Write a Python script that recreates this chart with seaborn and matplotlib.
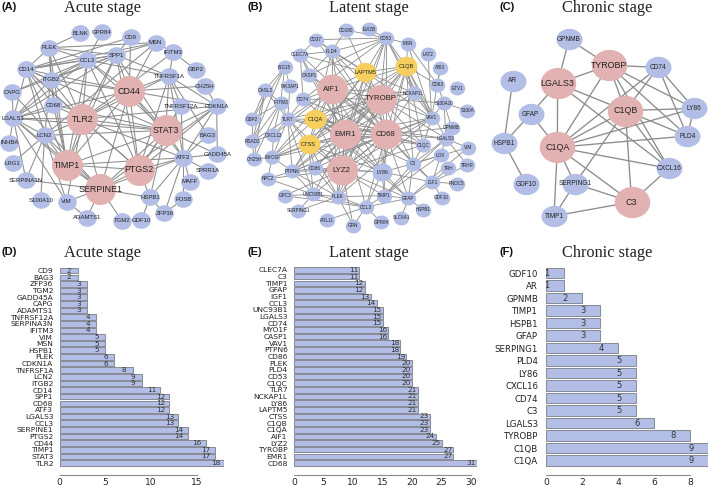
import numpy as np
import pandas as pd
import matplotlib
matplotlib.use("Agg")
import matplotlib.pyplot as plt
from matplotlib.collections import LineCollection
from matplotlib.path import Path
import seaborn as sns

sns.set_theme(style="white")
plt.rcParams['font.family'] = ['Liberation Sans', 'DejaVu Sans']

BLUE = "#B2BEE6"
PINK = "#E2B2B2"
GOLD = "#F6CF5E"
W, H = 709, 486

# ---- degree bars ----
acute_genes = ["CD9", "BAG3", "ZFP36", "TGM2", "GADD45A", "CAPG", "ADAMTS1", "TNFRSF12A", "SERPINA3N", "IFITM3",
               "VIM", "MSN", "HSPB1", "PLEK", "CDKN1A", "TNFRSF1A", "LCN2", "ITGB2", "CD14", "SPP1",
               "CD68", "ATF3", "LGALS3", "CCL3", "SERPINE1", "PTGS2", "CD44", "TIMP1", "STAT3", "TLR2"]
acute_deg = [2, 2, 3, 3, 3, 3, 3, 4, 4, 4, 5, 5, 5, 6, 6, 8, 9, 9, 11, 12, 12, 12, 13, 13, 14, 14, 16, 17, 17, 18]

latent_genes = ["CLEC7A", "C3", "TIMP1", "GFAP", "IGF1", "CCL3", "UNC93B1", "LGALS3", "CD74", "MYO1F",
                "CASP1", "VAV1", "PTPN6", "CD86", "PLEK", "PLD4", "CD53", "C1QC", "TLR7", "NCKAP1L",
                "LY86", "LAPTM5", "CTSS", "C1QB", "C1QA", "AIF1", "LYZ2", "TYROBP", "EMR1", "CD68"]
latent_deg = [11, 11, 12, 12, 13, 14, 15, 15, 15, 16, 16, 18, 18, 19, 20, 20, 20, 20, 21, 21,
              21, 21, 23, 23, 23, 24, 25, 27, 27, 31]

chronic_genes = ["GDF10", "AR", "GPNMB", "TIMP1", "HSPB1", "GFAP", "SERPING1", "PLD4", "LY86", "CXCL16",
                 "CD74", "C3", "LGALS3", "TYROBP", "C1QB", "C1QA"]
chronic_deg = [1, 1, 2, 3, 3, 3, 4, 5, 5, 5, 5, 5, 6, 8, 9, 9]

# ---- networks: node places ----
acute_nodes = {
    "BLNK": (240, 100), "GPR84": (305, 97), "CD9": (392, 112), "MSN": (467, 128), "PLEK": (148, 143),
    "IFITM3": (520, 157), "SPP1": (348, 165), "CCL3": (262, 180), "GBP2": (587, 209), "CD14": (79, 208),
    "TNFRSF1A": (507, 228), "ITGB2": (152, 239), "CD44": (388, 273), "CH25H": (615, 258), "CAPG": (36, 277),
    "CD68": (160, 315), "TNFRSF12A": (543, 318), "CDKN1A": (650, 318), "TLR2": (247, 357), "LGALS3": (40, 355),
    "STAT3": (497, 391), "LCN2": (134, 406), "BAG3": (623, 405), "INHBA": (28, 428), "GADD45A": (652, 463),
    "ATF3": (550, 473), "LRG1": (38, 489), "TIMP1": (201, 495), "PTGS2": (417, 509), "SPRR1A": (623, 512),
    "SERPINA3N": (78, 540), "MAFF": (570, 545), "SERPINE1": (301, 567), "S100A10": (122, 600), "VIM": (200, 605),
    "HSPB1": (450, 592), "FOSB": (550, 597), "ZFP36": (493, 640), "ADAMTS1": (261, 653), "TGM2": (366, 662),
    "GDF10": (424, 661)}
acute_hubs = ["CD44", "TLR2", "STAT3", "TIMP1", "PTGS2", "SERPINE1"]
acute_links = {
    "TLR2": "CD44 STAT3 TIMP1 PTGS2 SERPINE1 CD14 CD68 LGALS3 LCN2 ITGB2 CCL3 SPP1 PLEK ATF3 IFITM3 TNFRSF1A CDKN1A VIM",
    "STAT3": "CD44 TIMP1 PTGS2 SERPINE1 LGALS3 CCL3 SPP1 LCN2 ATF3 TNFRSF1A TNFRSF12A CDKN1A GADD45A HSPB1 CD68 CD14",
    "CD44": "TIMP1 PTGS2 SERPINE1 CD14 ITGB2 CCL3 SPP1 CD9 MSN TNFRSF1A ATF3 CDKN1A CH25H LGALS3",
    "TIMP1": "PTGS2 SERPINE1 CD14 LGALS3 LCN2 ITGB2 CCL3 SPP1 ATF3 CD68 PLEK",
    "PTGS2": "SERPINE1 ATF3 CCL3 SPP1 TNFRSF1A CDKN1A HSPB1 CD14 TNFRSF12A",
    "SERPINE1": "ATF3 VIM ADAMTS1 TGM2 SERPINA3N CDKN1A LGALS3 LCN2 HSPB1 CAPG",
    "ATF3": "TNFRSF1A TNFRSF12A CDKN1A BAG3 GADD45A SPRR1A MAFF FOSB ZFP36 HSPB1",
    "CD14": "PLEK ITGB2 CCL3 CD68 LGALS3 LCN2 SPP1 MSN CD9",
    "LGALS3": "CCL3 SPP1 CD68 CAPG LCN2 VIM INHBA ITGB2 SERPINA3N",
    "LCN2": "SERPINA3N LRG1 S100A10 VIM ITGB2 MSN",
    "PLEK": "BLNK CCL3 ITGB2 SPP1 MSN CD68",
    "CCL3": "SPP1 GPR84 ITGB2 CAPG TNFRSF1A",
    "SPP1": "CD9 MSN TNFRSF1A ITGB2 CAPG",
    "IFITM3": "GBP2 TNFRSF1A MSN",
    "TNFRSF1A": "CDKN1A BAG3 TNFRSF12A",
    "CDKN1A": "GADD45A CH25H",
    "HSPB1": "GDF10 ZFP36",
    "ZFP36": "FOSB",
    "VIM": "ADAMTS1",
}

latent_nodes = {
    "CD180": (332, 90), "EVI2B": (402, 88), "CD37": (243, 119), "CD53": (453, 114), "MSN": (518, 131),
    "PLD4": (290, 154), "LAT2": (579, 163), "CLEC7A": (196, 164), "ISG15": (149, 202), "LAPTM5": (391, 216),
    "C1QB": (514, 199), "ABI3": (616, 203), "CASP1": (223, 225), "PIK3AP1": (165, 258), "AIF1": (290, 268),
    "CD63": (607, 254), "ETV1": (666, 265), "TYROBP": (437, 296), "NCKAP1L": (536, 279), "OASL2": (90, 270),
    "CD74": (204, 298), "IFITM3": (137, 308), "S100A10": (627, 309), "S100A": (697, 332), "GBP2": (52, 357),
    "TLR7": (158, 357), "C1QA": (241, 358), "VAV1": (590, 353), "GPNMB": (650, 383), "RSAD2": (52, 423),
    "CXCL12": (115, 405), "EMR1": (331, 402), "CD68": (453, 402), "LGALS3": (633, 416), "CTSS": (221, 433),
    "C1QC": (565, 435), "VIM": (698, 443), "CH25H": (57, 477), "MYO1F": (112, 472), "LOX": (617, 466),
    "TRHR": (697, 495), "LYZ2": (320, 510), "C3": (534, 491), "TRH": (640, 505), "PTPN6": (172, 514),
    "CD86": (240, 505), "LY86": (442, 516), "NPC2": (98, 536), "IGF1": (592, 546), "FNDC5": (665, 551),
    "GPC3": (149, 587), "UNC93B1": (235, 583), "PLEK": (309, 590), "TIMP1": (447, 587), "GFAP": (520, 595),
    "GDF10": (620, 593), "CCL3": (393, 621), "HSPB1": (563, 629), "SERPING1": (190, 632), "SLC6A1": (499, 653),
    "ARL11": (275, 661), "GPR84": (438, 666), "GRN": (355, 677)}
latent_hubs = ["AIF1", "TYROBP", "EMR1", "CD68", "LYZ2"]
latent_gold = ["LAPTM5", "C1QB", "C1QA", "CTSS"]
latent_mid = ["LY86"]
latent_links = {
    "CD68": "EMR1 TYROBP LYZ2 AIF1 C1QA C1QB CTSS LAPTM5 C1QC LY86 PLEK PLD4 CD53 TLR7 NCKAP1L VAV1 PTPN6 CD86 CD74 CASP1 MYO1F C3 TIMP1 GFAP CCL3 IGF1 LGALS3 UNC93B1 CLEC7A CD37 GPNMB",
    "EMR1": "TYROBP LYZ2 AIF1 C1QA C1QB CTSS LAPTM5 C1QC LY86 PLEK PLD4 CD53 TLR7 NCKAP1L VAV1 PTPN6 CD86 CD74 CASP1 MYO1F UNC93B1 CCL3 CLEC7A",
    "TYROBP": "LYZ2 AIF1 C1QA C1QB CTSS LAPTM5 C1QC LY86 PLEK PLD4 CD53 TLR7 NCKAP1L VAV1 PTPN6 CD86 CD74 MYO1F C3 LGALS3 S100A10",
    "LYZ2": "AIF1 C1QA C1QB CTSS LAPTM5 C1QC LY86 PLEK CD53 TLR7 VAV1 PTPN6 CD86 GRN GPC3 NPC2 TIMP1 GFAP",
    "AIF1": "C1QA C1QB CTSS LAPTM5 C1QC LY86 PLEK PLD4 TLR7 NCKAP1L CD74 CASP1 MYO1F CXCL12",
    "C1QA": "C1QB CTSS C1QC LY86 PLD4 TLR7 LGALS3 C3 GFAP MYO1F",
    "C1QB": "CTSS LAPTM5 C1QC LY86 CD53 NCKAP1L C3 MSN LGALS3 CD63 VAV1",
    "CTSS": "LAPTM5 PLEK LY86 CD86 PTPN6 MYO1F TLR7 UNC93B1",
    "LAPTM5": "CD53 PLD4 NCKAP1L VAV1 CD37 PTPN6 CLEC7A CD180",
    "CD53": "PLD4 EVI2B CD37 VAV1 NCKAP1L MSN CASP1 CD74 CD180",
    "VAV1": "NCKAP1L PTPN6 MSN C1QC PLEK LAT2 ABI3",
    "TLR7": "UNC93B1 CXCL12 MYO1F PIK3AP1 CD74 PTPN6 IFITM3",
    "PLEK": "CCL3 UNC93B1 CD86 PTPN6 GRN TIMP1 SERPING1",
    "LY86": "CD86 TIMP1 GFAP CCL3 C3 IGF1",
    "C3": "LGALS3 GFAP TIMP1 IGF1 C1QC VIM LOX",
    "GFAP": "IGF1 HSPB1 TIMP1 CCL3 SLC6A1 VIM",
    "IGF1": "LOX TRH GDF10 FNDC5 TRHR",
    "TIMP1": "CCL3 LGALS3 LOX",
    "CCL3": "GRN GPR84 UNC93B1 GPC3 ARL11",
    "ISG15": "OASL2 IFITM3 GBP2 RSAD2 PIK3AP1",
    "OASL2": "IFITM3 GBP2 RSAD2 CH25H TLR7",
    "IFITM3": "GBP2 RSAD2 CXCL12 CH25H",
    "RSAD2": "CXCL12 GBP2 CH25H TLR7",
    "MYO1F": "CH25H NPC2 PTPN6 CXCL12",
    "PTPN6": "NPC2 CD86 UNC93B1",
    "LGALS3": "VIM LOX S100A10 GPNMB TRHR",
    "CD63": "ABI3 S100A10 MSN",
    "CLEC7A": "CD37 PLD4 CASP1 CD74",
    "PLD4": "CD37 CD180 CASP1",
    "UNC93B1": "GPC3 SERPING1 NPC2",
    "S100A10": "VAV1 S100A GPNMB",
}

chronic_nodes = {
    "GPNMB": (297, 118), "TYROBP": (417, 196), "CD74": (565, 202), "AR": (128, 242), "LGALS3": (263, 250),
    "LY86": (672, 325), "C1QB": (466, 332), "GFAP": (182, 342), "PLD4": (652, 408), "HSPB1": (102, 429),
    "C1QA": (262, 442), "CXCL16": (597, 505), "SERPING1": (315, 551), "GDF10": (169, 553), "C3": (485, 606),
    "TIMP1": (252, 648)}
chronic_hubs = ["TYROBP", "LGALS3", "C1QB", "C1QA", "C3"]
chronic_links = {
    "HSPB1": "AR GDF10 GFAP",
    "GFAP": "LGALS3 C1QA",
    "GPNMB": "LGALS3 TYROBP",
    "LGALS3": "TYROBP C1QA C1QB CXCL16",
    "TYROBP": "CD74 C1QB C1QA LY86 PLD4 CXCL16",
    "CD74": "C1QB C1QA LY86 PLD4",
    "C1QB": "LY86 PLD4 CXCL16 C1QA C3 SERPING1",
    "C1QA": "LY86 PLD4 CXCL16 C3 TIMP1 SERPING1",
    "SERPING1": "TIMP1 C3",
    "C3": "TIMP1 CXCL16",
    "LY86": "PLD4",
}


def ellipse(ratio):
    return Path.unit_circle().transformed(matplotlib.transforms.Affine2D().scale(1, ratio))


def draw_network(fig, left, width, nodes, links, size, ratio, font, lw, hubs=(), hub_size=30, hub_font=6, hub_ratio=1.0,
                 gold=(), gold_size=20, gold_font=4, mid=()):
    ax = fig.add_axes([left / W, 1 - 245 / H, width / W, 245 / H])
    ax.patch.set_alpha(0)
    segs = []
    for a, others in links.items():
        for b in others.split():
            segs.append([nodes[a], nodes[b]])
    ax.add_collection(LineCollection(segs, colors="#8C8C8C", linewidths=lw, zorder=1))
    df = pd.DataFrame([(k, v[0], v[1]) for k, v in nodes.items()], columns=["gene", "x", "y"])
    kinds = []
    for g in df["gene"]:
        kinds.append("hub" if g in hubs else "gold" if g in gold else "mid" if g in mid else "small")
    df["kind"] = kinds
    styles = {"small": (BLUE, size, ratio, font), "mid": (BLUE, size * 1.3, ratio, font + 0.5),
              "hub": (PINK, hub_size, hub_ratio, hub_font), "gold": (GOLD, gold_size, 0.88, gold_font)}
    for kind, (col, px, rat, fs) in styles.items():
        sub = df[df["kind"] == kind]
        if sub.empty:
            continue
        sns.scatterplot(data=sub, x="x", y="y", ax=ax, color=col, s=(px * 0.72) ** 2, marker=ellipse(rat),
                        linewidth=0, zorder=2, clip_on=False, legend=False)
        for _, r in sub.iterrows():
            ax.text(r["x"], r["y"], r["gene"], ha="center", va="center", fontsize=fs, color="#222222",
                    zorder=3, clip_on=False)
    ax.set_xlim(0, width * 3)
    ax.set_ylim(735, 0)
    ax.axis("off")
    return ax


def draw_bars(fig, x0, px_unit, xmax, y_first, y_last, genes, deg, ticks, label_x):
    pitch = (y_last - y_first) / (len(genes) - 1)
    top, bottom = 262, 474.5
    many = len(genes) > 20
    ax = fig.add_axes([x0 / W, 1 - bottom / H, xmax * px_unit / W, (bottom - top) / H])
    ax.patch.set_alpha(0)
    df = pd.DataFrame({"gene": genes, "degree": deg})
    sns.barplot(data=df, x="degree", y="gene", ax=ax, color=BLUE, saturation=1, orient="h", width=0.84,
                edgecolor="#8A8D97", linewidth=0.75)
    for i, v in enumerate(deg):
        ax.text(v - 0.95, i, str(v), ha="center", va="center", fontsize=5.2 if many else 6,
                family="DejaVu Sans", color="#333333", clip_on=False)
    ax.set_xlim(0, xmax)
    ax.set_ylim((bottom - y_first) / pitch, (top - y_first) / pitch)
    ax.set_xlabel("")
    ax.set_ylabel("")
    for s in ["top", "left", "right"]:
        ax.spines[s].set_visible(False)
    ax.spines["bottom"].set_color("#8A8A8A")
    ax.spines["bottom"].set_linewidth(0.8)
    ax.spines["bottom"].set_bounds(ticks[0], ticks[-1])
    ax.set_xticks(ticks)
    ax.tick_params(axis="x", length=2.2, width=0.8, color="#8A8A8A", labelsize=6.6, pad=0, labelcolor="#222222",
                   labelfontfamily="DejaVu Sans")
    ax.tick_params(axis="y", length=0, labelsize=5.4 if many else 6.2, labelcolor="#222222",
                   labelfontfamily="DejaVu Sans", pad=(x0 - label_x) * 0.72)
    return ax


fig = plt.figure(figsize=(W / 100, H / 100), dpi=100, facecolor="white")

draw_network(fig, 0, 240, acute_nodes, acute_links, 18.5, 0.9, 4.3, 0.75, hubs=acute_hubs, hub_size=31, hub_font=6.4)
draw_network(fig, 235, 240, latent_nodes, latent_links, 15.5, 0.9, 3.3, 0.6, hubs=latent_hubs, hub_size=31,
             hub_font=5.6, hub_ratio=0.96, gold=latent_gold, gold_size=22, gold_font=4.1, mid=latent_mid)
draw_network(fig, 470, 239, chronic_nodes, chronic_links, 26, 0.82, 4.7, 0.95, hubs=chronic_hubs, hub_size=35.5,
             hub_font=6.4, hub_ratio=0.88)

draw_bars(fig, 59.7, 9.13, 18, 270.7, 463, acute_genes, acute_deg, [0, 5, 10, 15], 53.3)
draw_bars(fig, 294, 5.9, 31, 270, 463, latent_genes, latent_deg, [0, 5, 10, 15, 20, 25, 30], 287.7)
draw_bars(fig, 546, 18.04, 9, 273, 460.7, chronic_genes, chronic_deg, [0, 2, 4, 6, 8], 538)

for txt, x, y in [("Acute stage", 102, 7.5), ("Latent stage", 369, 7.5), ("Chronic stage", 607, 7.5),
                  ("Acute stage", 102, 252.5), ("Latent stage", 369, 252.5), ("Chronic stage", 607, 252.5)]:
    fig.text(x / W, 1 - y / H, txt, ha="center", va="center", fontsize=11.8, family="Liberation Serif", color="#222222")
for txt, x, y in [("(A)", 2, 7), ("(B)", 248, 7), ("(C)", 500, 7), ("(D)", 2, 252), ("(E)", 248, 252), ("(F)", 500, 252)]:
    fig.text(x / W, 1 - y / H, txt, ha="left", va="center", fontsize=8, fontweight="bold", color="#111111")

fig.savefig("out.png", dpi=100)
